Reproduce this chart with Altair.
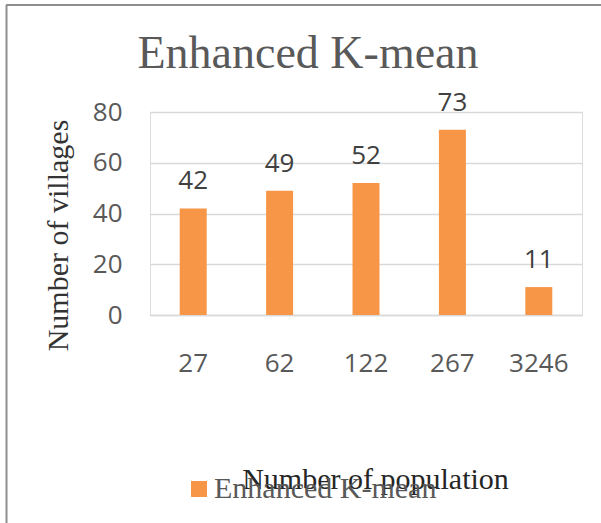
import altair as alt
import pandas as pd

# Village counts per population cluster (Enhanced K-mean)
population = ["27", "62", "122", "267", "3246"]
villages = [42, 49, 52, 73, 11]
series_name = "Enhanced K-mean"

df = pd.DataFrame({
    "population": population,
    "villages": villages,
    "series": [series_name] * len(population),
})

SERIF = "Liberation Serif"
SANS = "Open Sans"
ORANGE = "#F79646"

PLOT_W, PLOT_H = 432, 203
PAD_L, PAD_T = 150, 112

base = alt.Chart(df)

x_enc = alt.X(
    "population:N",
    sort=population,
    scale=alt.Scale(paddingInner=0.6875, paddingOuter=0.34375),
    axis=alt.Axis(
        title="Number of population",
        titleFont=SERIF, titleFontSize=30, titleFontWeight="normal",
        titleColor="#262626", titleX=225, titleY=173,
        titleAlign="center", titleBaseline="alphabetic",
        labelFont=SANS, labelFontSize=26, labelColor="#595959",
        labelAngle=0, labelPadding=35,
        ticks=False, domainColor="#D9D9D9", domainWidth=1.3,
        grid=False,
    ),
)

y_enc = alt.Y(
    "villages:Q",
    scale=alt.Scale(domain=[0, 80], nice=False),
    axis=alt.Axis(
        title="Number of villages",
        titleFont=SERIF, titleFontSize=30, titleFontWeight="normal",
        titleColor="#333333", titleX=-92, titleY=123,
        titleAngle=-90, titleAlign="center", titleBaseline="middle",
        values=[0, 20, 40, 60, 80],
        labelFont=SANS, labelFontSize=26, labelColor="#595959",
        labelPadding=28,
        ticks=False, domain=False,
        gridColor="#D9D9D9", gridWidth=1.3,
    ),
)

bars = base.mark_bar().encode(
    x=x_enc,
    y=y_enc,
    color=alt.Color(
        "series:N",
        scale=alt.Scale(domain=[series_name], range=[ORANGE]),
        legend=alt.Legend(
            title=None, orient="none", legendX=34, legendY=362,
            symbolType="square", symbolSize=256, symbolStrokeWidth=0,
            labelFont=SERIF, labelFontSize=30, labelColor="#595959",
            labelOffset=0, padding=0, labelLimit=400,
        ),
    ),
)

labels = base.mark_text(
    font=SANS, fontSize=26, color="#404040",
    baseline="alphabetic", dy=-19,
).encode(
    x=alt.X("population:N", sort=population),
    y="villages:Q",
    text="villages:Q",
)

# Frame lines around the chart (top and left edges)
frame_df = pd.DataFrame({"k": [0]})
top_edge = alt.Chart(frame_df).mark_rule(color="#8f8f8f", strokeWidth=2).encode(
    x=alt.value(6 - PAD_L), x2=alt.value(601 - PAD_L), y=alt.value(5 - PAD_T)
)
left_edge = alt.Chart(frame_df).mark_rule(color="#8f8f8f", strokeWidth=2).encode(
    x=alt.value(6.5 - PAD_L), y=alt.value(5 - PAD_T), y2=alt.value(523 - PAD_T)
)

chart = alt.layer(bars, labels, top_edge, left_edge).properties(
    width=PLOT_W,
    height=PLOT_H,
    title=alt.TitleParams(
        "Enhanced K-mean", font=SERIF, fontSize=46, fontWeight="normal",
        color="#595959", anchor="middle", offset=0, baseline="alphabetic",
        dx=-58, dy=110,
    ),
    autosize=alt.AutoSizeParams(type="none"),
    padding={"left": PAD_L, "top": PAD_T, "right": 601 - PAD_L - PLOT_W,
             "bottom": 523 - PAD_T - PLOT_H},
).configure_view(stroke=None).configure(background="white")

chart.save("out.html", embed_options={"renderer": "svg", "actions": False})
